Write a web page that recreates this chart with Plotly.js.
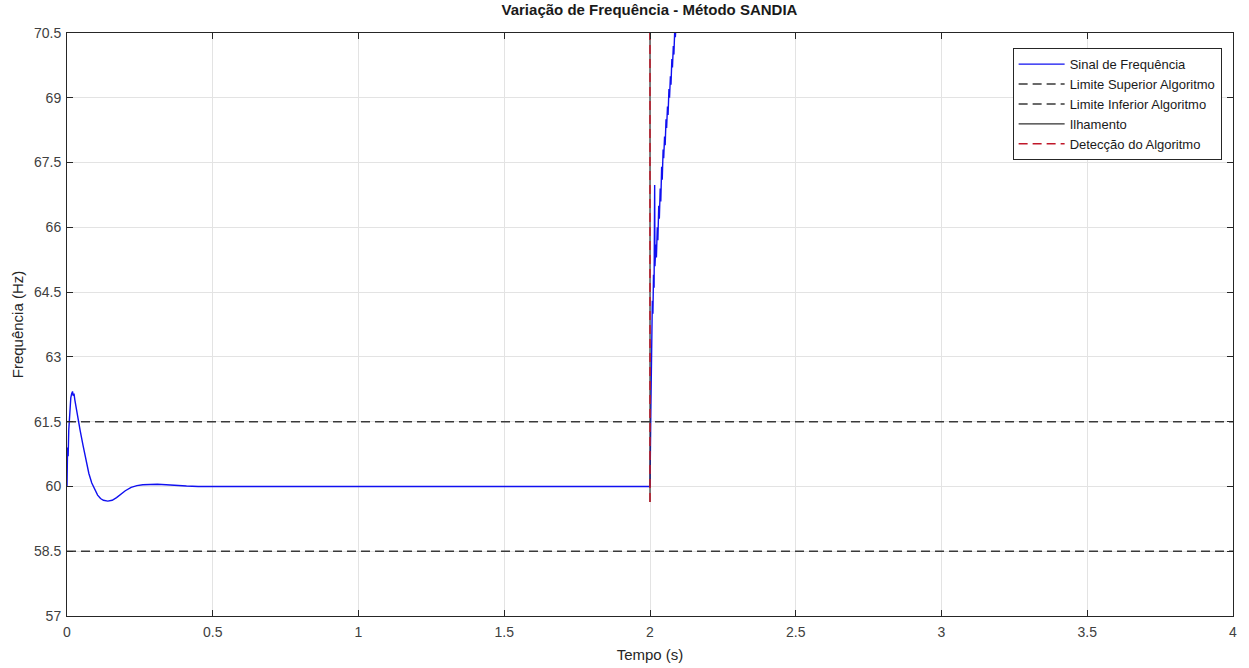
<!DOCTYPE html>
<html>
<head>
<meta charset="utf-8">
<script src="https://cdn.plot.ly/plotly-3.0.1.min.js"></script>
<style>html,body{margin:0;padding:0;background:#fff;}#chart{width:1249px;height:668px;}</style>
</head>
<body>
<div id="chart"></div>
<script>
// Signal de frequência
const tSignal = [0, 0.002, 0.004, 0.006, 0.008, 0.010, 0.013, 0.016, 0.019, 0.021, 0.024, 0.027, 0.032, 0.038, 0.045, 0.055, 0.065, 0.075, 0.085, 0.095, 0.105, 0.115, 0.125, 0.14, 0.155, 0.17, 0.185, 0.2, 0.22, 0.24, 0.26, 0.28, 0.31, 0.34, 0.37, 0.41, 0.45, 0.5, 1.0, 1.5, 1.999,
  2.0, 2.003, 2.006, 2.008, 2.010, 2.012, 2.014, 2.016, 2.017, 2.020, 2.022, 2.025, 2.027, 2.030, 2.032, 2.035, 2.037, 2.040, 2.042, 2.045, 2.047, 2.050, 2.052, 2.055, 2.057, 2.060, 2.062, 2.065, 2.067, 2.070, 2.072, 2.075, 2.077, 2.080, 2.082, 2.085, 2.087, 2.090, 2.095];
const fSignal = [60, 60.9, 60.7, 61.3, 61.6, 61.9, 62.05, 62.15, 62.2, 62.1, 62.15, 62.0, 61.8, 61.5, 61.3, 60.95, 60.6, 60.3, 60.08, 59.93, 59.8, 59.72, 59.68, 59.66, 59.68, 59.74, 59.82, 59.9, 59.98, 60.02, 60.04, 60.05, 60.05, 60.04, 60.02, 60.01, 60.0, 60.0, 60.0, 60.0, 60.0,
  60.0, 61.8, 63.2, 64.3, 64.0, 64.9, 64.6, 66.98, 65.1, 65.6, 65.3, 66.0, 65.7, 66.5, 66.2, 66.9, 66.6, 67.4, 67.1, 67.8, 67.6, 68.1, 67.9, 68.5, 68.3, 68.8, 68.6, 69.2, 69.0, 69.5, 69.3, 69.9, 69.7, 70.2, 70.0, 70.6, 70.4, 71.0, 71.5];
// Limits
const tLimits = [0, 4];
const limiteSuperior = [61.5, 61.5];
const limiteInferior = [58.5, 58.5];
// Vertical event lines
const tIlhamento = [2, 2];
const tDeteccao = [2, 2];
const fVertical = [59.64, 70.5];
// Ticks
const xTicks = [0, 0.5, 1, 1.5, 2, 2.5, 3, 3.5, 4];
const xTickLabels = ['0', '0.5', '1', '1.5', '2', '2.5', '3', '3.5', '4'];
const yTicks = [57, 58.5, 60, 61.5, 63, 64.5, 66, 67.5, 69, 70.5];
const yTickLabels = ['57', '58.5', '60', '61.5', '63', '64.5', '66', '67.5', '69', '70.5'];

const traces = [
  {x: tSignal, y: fSignal, mode: 'lines', name: 'Sinal de Frequência', line: {color: '#1010f0', width: 1.4}},
  {x: tLimits, y: limiteSuperior, mode: 'lines', name: 'Limite Superior Algoritmo', line: {color: '#3a3a3a', width: 1.5, dash: '9px,5px'}},
  {x: tLimits, y: limiteInferior, mode: 'lines', name: 'Limite Inferior Algoritmo', line: {color: '#3a3a3a', width: 1.5, dash: '9px,5px'}},
  {x: tIlhamento, y: fVertical, mode: 'lines', name: 'Ilhamento', line: {color: '#303030', width: 1.2}},
  {x: tDeteccao, y: fVertical, mode: 'lines', name: 'Detecção do Algoritmo', line: {color: '#c0182a', width: 1.5, dash: '9px,5px'}}
];

const font = 'Liberation Sans, Arial, sans-serif';
const layout = {
  width: 1249, height: 668,
  margin: {l: 67, r: 16, t: 33, b: 52},
  paper_bgcolor: '#fff', plot_bgcolor: '#fff',
  font: {family: font, size: 14, color: '#404040'},
  title: {text: '<b>Variação de Frequência - Método SANDIA</b>', font: {family: font, size: 15, color: '#1a1a1a'}, x: 0.52, xanchor: 'center', y: 0.985, yanchor: 'middle'},
  xaxis: {
    range: [0, 4], tickvals: xTicks, ticktext: xTickLabels,
    showgrid: true, gridcolor: '#e3e3e3', gridwidth: 1,
    zeroline: false, showline: true, linecolor: '#262626', linewidth: 1, mirror: 'ticks',
    ticks: 'inside', ticklen: 6, tickcolor: '#262626', ticklabelstandoff: 3,
    tickfont: {family: font, size: 14, color: '#404040'},
    title: {text: 'Tempo (s)', font: {family: font, size: 15, color: '#262626'}, standoff: 10}
  },
  yaxis: {
    range: [57, 70.5], tickvals: yTicks, ticktext: yTickLabels,
    showgrid: true, gridcolor: '#e3e3e3', gridwidth: 1,
    zeroline: false, showline: true, linecolor: '#262626', linewidth: 1, mirror: 'ticks',
    ticks: 'inside', ticklen: 6, tickcolor: '#262626', ticklabelstandoff: 2,
    tickfont: {family: font, size: 14, color: '#404040'},
    title: {text: 'Frequência (Hz)', font: {family: font, size: 15, color: '#262626'}, standoff: 6}
  },
  showlegend: true,
  legend: {
    x: 0.811, y: 0.974, xanchor: 'left', yanchor: 'top',
    bgcolor: '#fff', bordercolor: '#262626', borderwidth: 1,
    font: {family: font, size: 13, color: '#1a1a1a'},
    tracegroupgap: 0, itemwidth: 46
  }
};

Plotly.newPlot('chart', traces, layout, {displayModeBar: false, staticPlot: true});
</script>
</body>
</html>
